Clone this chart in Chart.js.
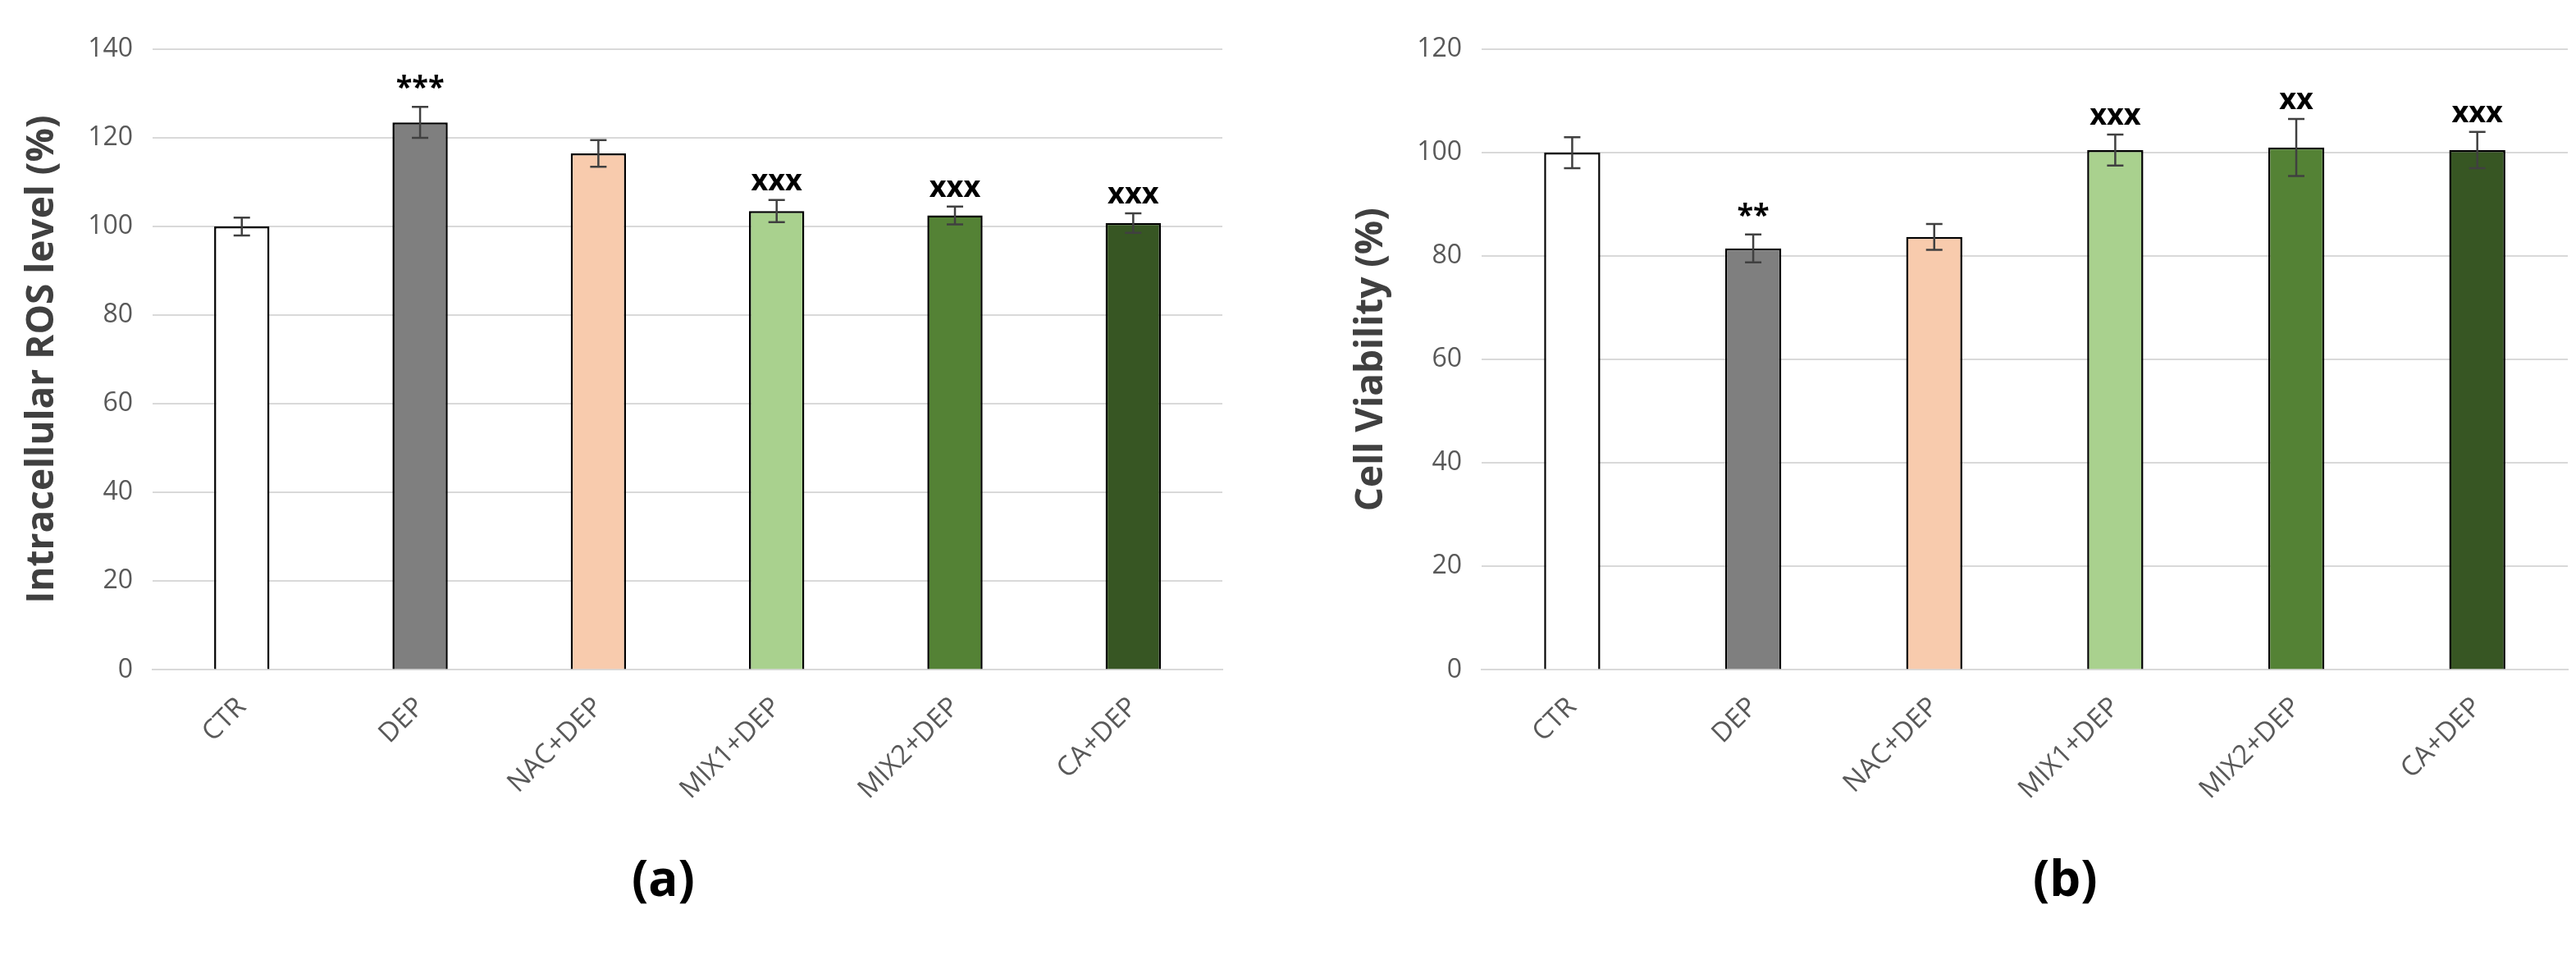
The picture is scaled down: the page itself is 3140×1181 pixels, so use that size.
<!DOCTYPE html>
<html><head><meta charset="utf-8">
<script src="https://cdn.jsdelivr.net/npm/chart.js@4.4.1/dist/chart.umd.min.js"></script>
<style>
body{margin:0;background:#fff;width:3140px;height:1181px;position:relative;overflow:hidden}
.box{position:absolute;top:0;height:1000px}
.lab{position:absolute;top:1028px;font:bold 60px "Open Sans",sans-serif;color:#000}
</style></head><body>
<div class="box" style="left:10px;width:1490px"><canvas id="a"></canvas></div>
<div class="box" style="left:1630px;width:1510px"><canvas id="b"></canvas></div>
<div class="lab" style="left:770px">(a)</div>
<div class="lab" style="left:2478px">(b)</div>
<script>
const categories = ['CTR', 'DEP', 'NAC+DEP', 'MIX1+DEP', 'MIX2+DEP', 'CA+DEP']
const colors = ['#ffffff', '#7f7f7f', '#f8cbad', '#a9d18e', '#548235', '#375623']

const rosValues = [100, 123.5, 116.5, 103.5, 102.5, 100.8]
const rosErrors = [2, 3.5, 3, 2.5, 2, 2.2]
const rosMarks = ['', '***', '', 'xxx', 'xxx', 'xxx']

const viabValues = [100, 81.5, 83.7, 100.5, 101, 100.5]
const viabErrors = [3, 2.7, 2.5, 3, 5.5, 3.5]
const viabMarks = ['', '**', '', 'xxx', 'xx', 'xxx']

Chart.defaults.animation = false
Chart.defaults.font.family = '"Open Sans", sans-serif'

const errorBars = {
    id: 'errorBars',
    afterDatasetsDraw(chart, args, opts) {
        const ctx = chart.ctx
        const y = chart.scales.y
        const meta = chart.getDatasetMeta(0)
        ctx.save()
        meta.data.forEach((bar, i) => {
            const v = opts.values[i], e = opts.errors[i]
            const top = y.getPixelForValue(v + e), bot = y.getPixelForValue(v - e)
            ctx.strokeStyle = '#404040'
            ctx.lineWidth = 2.5
            ctx.beginPath()
            ctx.moveTo(bar.x, top); ctx.lineTo(bar.x, bot)
            ctx.moveTo(bar.x - 10, top); ctx.lineTo(bar.x + 10, top)
            ctx.moveTo(bar.x - 10, bot); ctx.lineTo(bar.x + 10, bot)
            ctx.stroke()
            if (opts.marks[i]) {
                ctx.fillStyle = '#000'
                ctx.font = 'bold 36px "Open Sans", sans-serif'
                ctx.textAlign = 'center'
                ctx.textBaseline = 'bottom'
                ctx.fillText(opts.marks[i], bar.x, top - 4)
            }
        })
        ctx.restore()
    }
}

function makeChart(id, values, errors, marks, max, title) {
    return new Chart(document.getElementById(id), {
        type: 'bar',
        data: {
            labels: categories,
            datasets: [{
                data: values,
                backgroundColor: colors,
                borderColor: '#000',
                borderWidth: 2.5,
                barPercentage: 0.31,
                categoryPercentage: 1
            }]
        },
        options: {
            responsive: true,
            maintainAspectRatio: false,
            layout: { padding: { top: 60, right: 10, left: 10 } },
            plugins: {
                legend: { display: false },
                tooltip: { enabled: false },
                errorBars: { values, errors, marks }
            },
            scales: {
                y: {
                    min: 0, max: max,
                    ticks: { stepSize: 20, color: '#595959', font: { size: 32 }, padding: 24 },
                    grid: { color: '#d9d9d9', lineWidth: 2, drawTicks: false },
                    border: { display: false },
                    title: { display: true, text: title, color: '#404040', font: { size: 46, weight: 'bold' } }
                },
                x: {
                    ticks: { color: '#595959', font: { size: 33 }, maxRotation: 45, minRotation: 45, padding: 18 },
                    grid: { display: false },
                    border: { color: '#d9d9d9', width: 2 }
                }
            }
        },
        plugins: [errorBars]
    })
}

makeChart('a', rosValues, rosErrors, rosMarks, 140, 'Intracellular ROS level (%)')
makeChart('b', viabValues, viabErrors, viabMarks, 120, 'Cell Viability (%)')
</script>
</body></html>
